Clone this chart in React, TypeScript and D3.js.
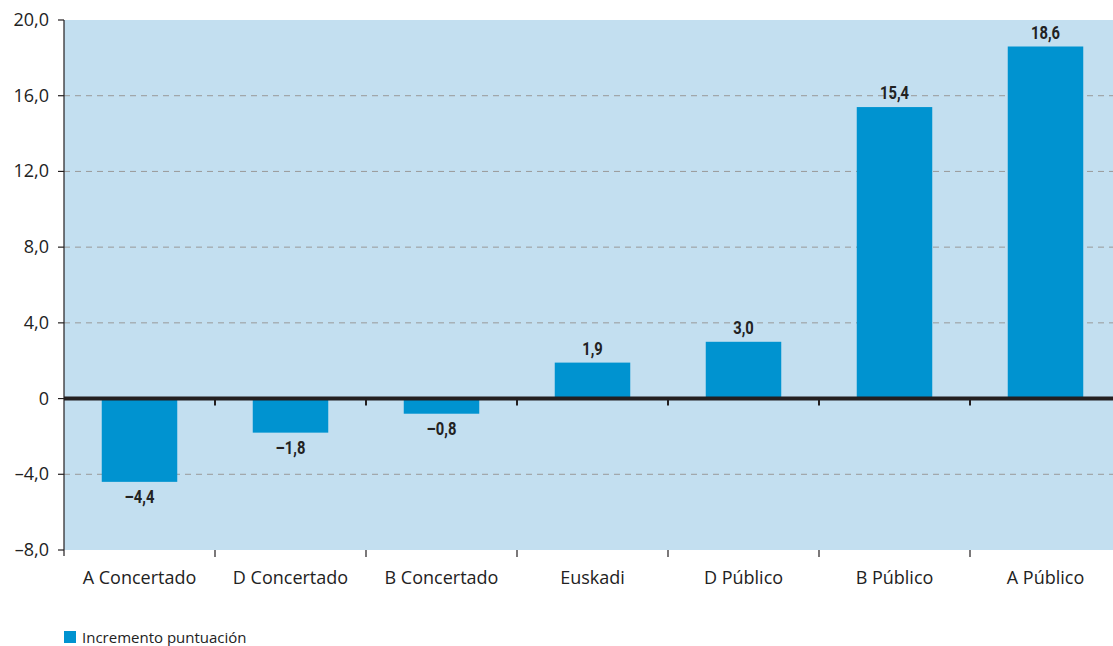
import React from "react";
import * as d3 from "d3";

const categories = ["A Concertado", "D Concertado", "B Concertado", "Euskadi", "D Público", "B Público", "A Público"];
const values = [-4.4, -1.8, -0.8, 1.9, 3.0, 15.4, 18.6];
const yTicks = [20, 16, 12, 8, 4, 0, -4, -8];
const seriesName = "Incremento puntuación";

const W = 1113, H = 646;
const left = 64, top = 20, bottom = 550, right = 1121;

const fmt = (v: number) => {
  if (v === 0) return "0";
  const s = Math.abs(v).toFixed(1).replace(".", ",");
  return (v < 0 ? "\u2013" : "") + s;
};

export default function App() {
  const y = d3.scaleLinear().domain([-8, 20]).range([bottom, top]);
  const x = d3.scaleBand().domain(categories).range([left, right]).paddingInner(0.5).paddingOuter(0.25);
  const step = x.step();
  const bg = "#c3dff0";
  const barColor = "#0093d0";
  const tickFont = "'Open Sans', 'Noto Sans', sans-serif";
  const labelFont = "Roboto, 'DejaVu Sans Condensed', sans-serif";
  return (
    <svg width={W} height={H} style={{ position: "absolute", left: 0, top: 0 }}>
      <rect x={left} y={top} width={W - left} height={bottom - top} fill={bg} />
      {yTicks.filter(t => t !== 0 && t !== 20 && t !== -8).map(t => (
        <line key={"g" + t} x1={left} x2={W} y1={y(t)} y2={y(t)} stroke="#999" strokeWidth={1} strokeDasharray="6,5" />
      ))}
      {categories.map((c, i) => {
        const v = values[i];
        const bx = x(c)!;
        const bw = x.bandwidth();
        const y0 = y(0), y1 = y(v);
        const cx = bx + bw / 2;
        const ly = v >= 0 ? y1 - 8 : y1 + 21;
        return (
          <g key={c}>
            <rect x={bx} y={Math.min(y0, y1)} width={bw} height={Math.abs(y1 - y0)} fill={barColor} />
            <text transform={`translate(${cx},${ly}) scale(0.82,1)`} textAnchor="middle" fontFamily={labelFont} fontWeight="bold" fontSize={18} fill="#222">{fmt(v)}</text>
            <text x={cx} y={584} textAnchor="middle" fontFamily={tickFont} fontSize={18} fill="#222">{c}</text>
          </g>
        );
      })}
      <line x1={left} x2={W} y1={y(0)} y2={y(0)} stroke="#231f20" strokeWidth={4} />
      {categories.slice(1).map((c, i) => (
        <g key={"t" + c}>
          <line x1={left + step * (i + 1)} x2={left + step * (i + 1)} y1={y(0)} y2={y(0) + 7} stroke="#231f20" strokeWidth={2} />
          <line x1={left + step * (i + 1)} x2={left + step * (i + 1)} y1={bottom} y2={bottom + 7} stroke="#231f20" strokeWidth={1.2} />
        </g>
      ))}
      <line x1={left} x2={left} y1={top} y2={bottom + 6} stroke="#231f20" strokeWidth={1.2} />
      {yTicks.map(t => (
        <g key={"y" + t}>
          <line x1={left - 6} x2={left} y1={y(t)} y2={y(t)} stroke="#231f20" strokeWidth={1.2} />
          <text x={49} y={y(t) + 6} textAnchor="end" fontFamily={tickFont} fontSize={18} fill="#222">{fmt(t)}</text>
        </g>
      ))}
      <rect x={64} y={631} width={12} height={12} fill={barColor} />
      <text x={82} y={643} fontFamily={tickFont} fontSize={15} fill="#222">{seriesName}</text>
    </svg>
  );
}
